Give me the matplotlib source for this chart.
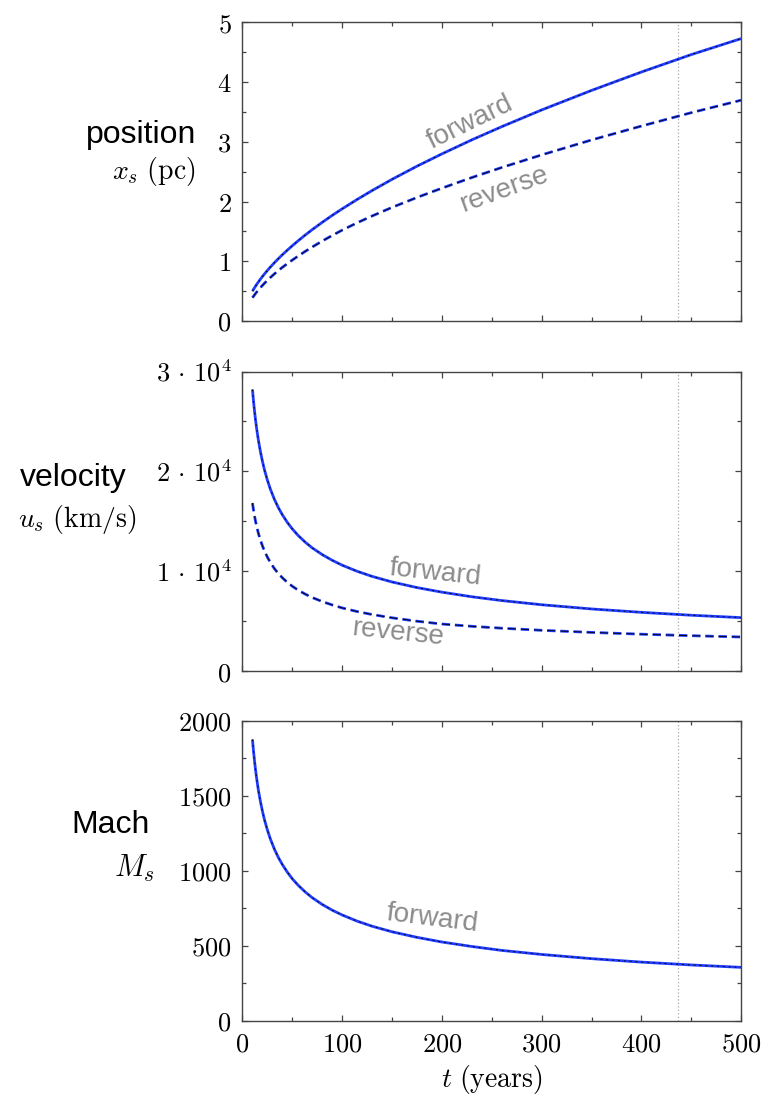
import matplotlib
matplotlib.use('Agg')
import matplotlib.pyplot as plt
from matplotlib.ticker import MultipleLocator, FixedLocator

plt.rcParams['mathtext.fontset'] = 'cm'
plt.rcParams['font.family'] = ['DejaVu Sans']
plt.rcParams['lines.scale_dashes'] = False

# time samples (years)
t = [10, 11, 12, 13, 14, 15, 16, 18, 20, 22, 25, 28, 32, 36, 40, 45, 50,
     56, 63, 70, 80, 90, 100, 115, 130, 150, 175, 200, 230, 260, 300,
     350, 400, 450, 500]

# shock positions (pc)
x_fwd = [0.500, 0.528, 0.555, 0.581, 0.607, 0.631, 0.655, 0.701, 0.745,
         0.787, 0.847, 0.904, 0.976, 1.044, 1.110, 1.187, 1.261, 1.346,
         1.441, 1.531, 1.653, 1.769, 1.879, 2.036, 2.185, 2.373, 2.593,
         2.799, 3.034, 3.255, 3.535, 3.862, 4.170, 4.462, 4.730]
x_rev = [0.390, 0.413, 0.436, 0.458, 0.480, 0.500, 0.521, 0.559, 0.596,
         0.631, 0.681, 0.729, 0.789, 0.845, 0.899, 0.961, 1.021, 1.090,
         1.167, 1.240, 1.339, 1.433, 1.522, 1.645, 1.759, 1.903, 2.069,
         2.225, 2.403, 2.571, 2.782, 3.032, 3.265, 3.489, 3.698]

# shock velocities (km/s)
u_fwd = [28200, 27080, 26100, 25220, 24440, 23740, 23090, 21970, 21010,
         20170, 19110, 18210, 17200, 16360, 15650, 14880, 14230, 13560,
         12900, 12330, 11660, 11090, 10600, 9990, 9480, 8920, 8360, 7900,
         7440, 7060, 6640, 6220, 5880, 5590, 5350]
u_rev = [16830, 16160, 15570, 15050, 14590, 14170, 13780, 13110, 12540,
         12040, 11400, 10870, 10260, 9760, 9340, 8880, 8490, 8090, 7700,
         7360, 6960, 6620, 6320, 5960, 5660, 5330, 4990, 4710, 4480, 4290,
         4080, 3870, 3690, 3540, 3410]

# forward shock Mach number
mach_fwd = [1875, 1801, 1736, 1677, 1625, 1579, 1535, 1461, 1397, 1341,
            1271, 1211, 1144, 1088, 1041, 990, 946, 902, 858, 820, 775,
            737, 705, 664, 630, 593, 556, 525, 495, 469, 442, 414, 391,
            372, 356]

t_mark = 437

blue = '#1f3cff'
grey_txt = '#8c8c8c'
spine_c = '#444444'

fig = plt.figure(figsize=(7.64, 10.97), dpi=100)
L, W = 0.3174, 0.6526
ax1 = fig.add_axes([L, 0.7074, W, 0.2721])
ax2 = fig.add_axes([L, 0.3883, W, 0.2730])
ax3 = fig.add_axes([L, 0.0695, W, 0.2735])


def fwd_line(ax, y):
    ax.plot(t, y, color=blue, lw=2.0, solid_capstyle='butt')
    ax.plot(t, y, color='black', lw=0.7, dashes=(1.2, 3.0))


def rev_line(ax, y):
    ax.plot(t, y, color=blue, lw=2.0, dashes=(6, 3.5))
    ax.plot(t, y, color='black', lw=0.6, dashes=(6, 3.5))


fwd_line(ax1, x_fwd)
rev_line(ax1, x_rev)
fwd_line(ax2, u_fwd)
rev_line(ax2, u_rev)
fwd_line(ax3, mach_fwd)

for ax in (ax1, ax2, ax3):
    ax.axvline(t_mark, color='#b0b0b0', lw=0.9, ls=(0, (1, 1.5)), zorder=0)
    ax.set_xlim(0, 500)
    ax.xaxis.set_major_locator(MultipleLocator(100))
    ax.xaxis.set_minor_locator(MultipleLocator(50))
    ax.tick_params(which='both', direction='in', top=True, right=True,
                   color=spine_c, width=0.9, labelsize=19, pad=8)
    ax.tick_params(which='major', length=4.5)
    ax.tick_params(which='minor', length=2.8)
    for s in ax.spines.values():
        s.set_color(spine_c)
        s.set_linewidth(1.0)

ax1.set_ylim(0, 5)
ax1.yaxis.set_major_locator(FixedLocator([0, 1, 2, 3, 4, 5]))
ax1.yaxis.set_minor_locator(MultipleLocator(0.5))
ax1.set_yticklabels([f'${v}$' for v in range(6)])

ax2.set_ylim(0, 30000)
ax2.yaxis.set_major_locator(FixedLocator([0, 10000, 20000, 30000]))
ax2.yaxis.set_minor_locator(MultipleLocator(5000))
ax2.set_yticklabels(['$0$', r'$1\,\cdot\,10^4$', r'$2\,\cdot\,10^4$',
                     r'$3\,\cdot\,10^4$'])

ax3.set_ylim(0, 2000)
ax3.yaxis.set_major_locator(FixedLocator([0, 500, 1000, 1500, 2000]))
ax3.yaxis.set_minor_locator(MultipleLocator(250))
ax3.set_yticklabels([f'${v}$' for v in [0, 500, 1000, 1500, 2000]])

for ax in (ax1, ax2):
    ax.tick_params(labelbottom=False)
ax3.xaxis.set_major_locator(FixedLocator([0, 100, 200, 300, 400, 500]))
ax3.set_xticklabels([f'${v}$' for v in [0, 100, 200, 300, 400, 500]])
ax3.set_xlabel(r'$t\ \mathrm{(years)}$', fontsize=20, labelpad=4)

# curve labels
txt = dict(color=grey_txt, fontsize=20, family='Liberation Sans',
           ha='center', va='center', rotation_mode='anchor')
ax1.text(228, 3.33, 'forward', rotation=26, **txt)
ax1.text(262, 2.20, 'reverse', rotation=20, **txt)
ax2.text(193, 9800, 'forward', rotation=-6, **txt)
ax2.text(156, 3800, 'reverse', rotation=-6, **txt)
ax3.text(190, 680, 'forward', rotation=-7, **txt)


# row labels on the left
def fx(px):
    return px / 764


def fy(py):
    return 1 - py / 1097


side = dict(fontsize=23, family='Liberation Sans', ha='center', va='center')
math = dict(fontsize=20, ha='center', va='center')
fig.text(fx(141), fy(135), 'position', **side)
fig.text(fx(154), fy(172), r'$x_s\ \mathrm{(pc)}$', **math)
fig.text(fx(73), fy(478), 'velocity', **side)
fig.text(fx(77), fy(519), r'$u_s\ \mathrm{(km/s)}$', **math)
fig.text(fx(111), fy(825), 'Mach', **side)
fig.text(fx(134), fy(868), r'$M_s$', fontsize=22, ha='center', va='center')

fig.savefig('out.png', dpi=100)
